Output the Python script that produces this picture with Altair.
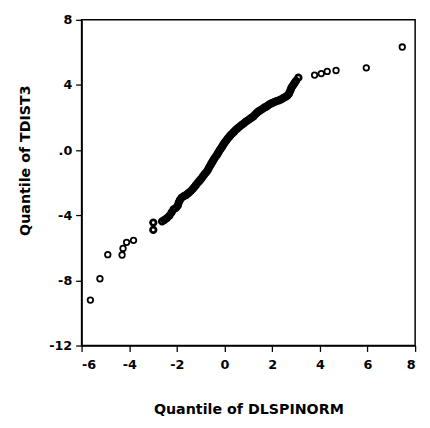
import altair as alt
import pandas as pd

# Sparse outliers (upper tail)
upper_x = [3.78, 4.06, 4.31, 4.68, 5.95, 7.46]
upper_y = [4.61, 4.70, 4.83, 4.89, 5.05, 6.33]

# Sparse outliers (lower tail)
lower_x = [-3.82, -4.11, -4.26, -4.30, -4.90, -5.23, -5.63]
lower_y = [-5.54, -5.66, -6.04, -6.44, -6.42, -7.90, -9.21]

# Dense central band
band_x = [3.10, 3.00, 2.94, 2.88, 2.82, 2.78, 2.74, 2.70, 2.64, 2.56, 2.47, 2.38, 2.28,
          2.18, 2.08, 1.98, 1.90, 1.82, 1.74, 1.66, 1.58, 1.50, 1.42, 1.35, 1.28, 1.22,
          1.14, 1.05, 0.96, 0.88, 0.80, 0.72, 0.63, 0.55, 0.47, 0.40, 0.33, 0.26, 0.20,
          0.13, 0.07, 0.01, -0.04, -0.09, -0.14, -0.19, -0.24, -0.29, -0.34, -0.40,
          -0.45, -0.50, -0.55, -0.60, -0.65, -0.70, -0.76, -0.84, -0.91, -0.98, -1.05,
          -1.12, -1.19, -1.26, -1.33, -1.41, -1.50, -1.60, -1.70, -1.80, -1.87, -1.92,
          -1.96, -2.04, -2.14, -2.22, -2.31, -2.42, -2.52, -2.62, -2.99, -2.99]
band_y = [4.45, 4.25, 4.12, 3.98, 3.86, 3.72, 3.58, 3.45, 3.35, 3.27, 3.20, 3.12, 3.06,
          3.01, 2.95, 2.88, 2.82, 2.74, 2.66, 2.60, 2.52, 2.44, 2.37, 2.28, 2.18, 2.08,
          2.00, 1.90, 1.81, 1.73, 1.63, 1.55, 1.44, 1.34, 1.24, 1.13, 1.03, 0.93, 0.82,
          0.70, 0.58, 0.47, 0.36, 0.24, 0.12, 0.02, -0.10, -0.22, -0.34, -0.46,
          -0.58, -0.70, -0.82, -0.95, -1.08, -1.22, -1.35, -1.48, -1.62, -1.76, -1.88,
          -2.00, -2.13, -2.26, -2.38, -2.50, -2.62, -2.74, -2.82, -2.92, -3.06, -3.22,
          -3.40, -3.55, -3.64, -3.82, -4.02, -4.18, -4.28, -4.38, -4.45, -4.90]

x_ticks = [-6, -4, -2, 0, 2, 4, 6, 8]
y_ticks = [-12, -8, -4, 0, 4, 8]

tails = pd.DataFrame({"x": upper_x + lower_x, "y": upper_y + lower_y})
band = pd.DataFrame({"x": band_x, "y": band_y})

font = "DejaVu Sans"

xenc = alt.X("x:Q", scale=alt.Scale(domain=[-6, 8], nice=False, zero=False),
             axis=alt.Axis(values=x_ticks, title="Quantile of DLSPINORM", grid=False,
                           tickSize=6, labelPadding=7,
                           labelExpr="'' + datum.value",
                           titleY=65, titleBaseline="middle"))
yenc = alt.Y("y:Q", scale=alt.Scale(domain=[-12, 8], nice=False, zero=False),
             axis=alt.Axis(values=y_ticks, title="Quantile of TDIST3", grid=False,
                           tickSize=6, labelPadding=4,
                           labelExpr="datum.value == 0 ? '.0' : '' + datum.value",
                           titleAngle=270, titleX=-57, titleY=143,
                           titleBaseline="middle", titleAlign="center"))

tail_layer = alt.Chart(tails).mark_point(
    shape="circle", filled=False, color="black", size=32, strokeWidth=1.8, opacity=1
).encode(x=xenc, y=yenc)

band_layer = alt.Chart(band).mark_point(
    shape="circle", filled=False, color="black", size=32, strokeWidth=2.8, opacity=1
).encode(x="x:Q", y="y:Q")

chart = alt.layer(tail_layer, band_layer).properties(
    width=340, height=332,
    padding={"left": 75, "top": 8, "right": 7, "bottom": 80},
    autosize=alt.AutoSizeParams(type="none"),
).configure_view(
    stroke="black", strokeWidth=1.5
).configure_axis(
    domainColor="black", domainWidth=1.5, tickColor="black", tickWidth=1.3,
    labelColor="black", titleColor="black", labelFont=font, titleFont=font,
    labelFontSize=13, labelFontWeight="bold",
    titleFontSize=14.5, titleFontWeight="bold",
)

chart.save("out.html", embed_options={"renderer": "svg", "actions": False})
